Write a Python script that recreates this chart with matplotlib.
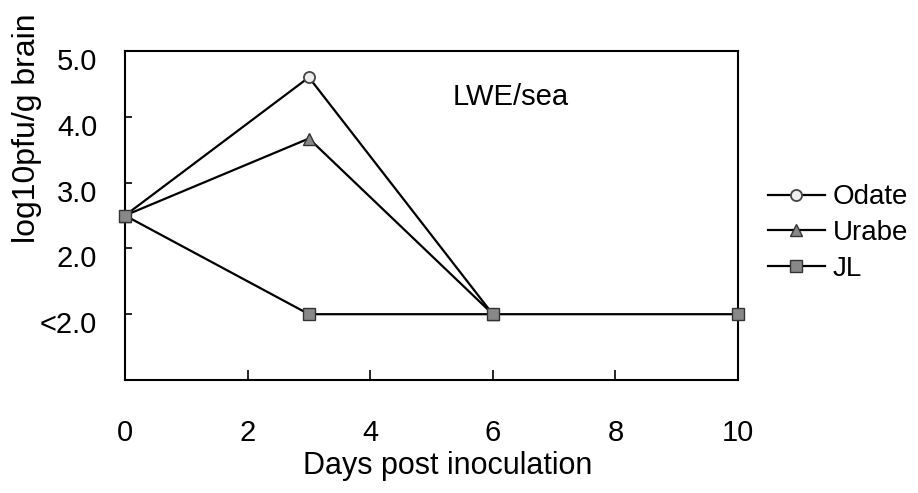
import matplotlib
matplotlib.use("Agg")
import matplotlib.pyplot as plt
from matplotlib.transforms import ScaledTranslation

plt.rcParams['font.family'] = ['Liberation Sans', 'DejaVu Sans']

# Data
days_odate = [0, 3, 6]
odate = [2.5, 4.6, 1.0]
days_urabe = [0, 3, 6]
urabe = [2.5, 3.67, 1.0]
days_jl = [0, 3, 6, 10]
jl = [2.5, 1.0, 1.0, 1.0]

xticks = [0, 2, 4, 6, 8, 10]
yticks = [1.0, 2.0, 3.0, 4.0, 5.0]
yticklabels = ['<2.0', '2.0', '3.0', '4.0', '5.0']

FS = 21

fig = plt.figure(figsize=(9.18, 4.93), dpi=100)
ax = fig.add_axes([125/918, 1-380/493, (738-125)/918, (380-51)/493])

lw = 1.6
ax.plot(days_odate, odate, color='black', lw=lw, marker='o', ms=8,
        mfc='#eeeeee', mec='#444444', mew=1.3, label='Odate', clip_on=False, zorder=3)
ax.plot(days_urabe, urabe, color='black', lw=lw, marker='^', ms=9,
        mfc='#888888', mec='#333333', mew=1.0, label='Urabe', clip_on=False, zorder=3)
ax.plot(days_jl, jl, color='black', lw=lw, marker='s', ms=8.5,
        mfc='#888888', mec='#333333', mew=1.0, label='JL', clip_on=False, zorder=4)

ax.set_xlim(0, 10)
ax.set_ylim(0, 5)
ax.set_xticks(xticks)
ax.set_yticks(yticks)
ax.set_yticklabels(yticklabels)

ax.tick_params(axis='y', direction='in', length=5, width=1.2, pad=20, labelsize=FS)
ax.tick_params(axis='x', direction='in', length=7, width=1.2, pad=28, labelsize=FS)
for s in ax.spines.values():
    s.set_linewidth(1.5)
    s.set_color('black')

offset = ScaledTranslation(0, -8/100, fig.dpi_scale_trans)
for lab in ax.get_yticklabels():
    lab.set_transform(lab.get_transform() + offset)

ax.set_xlabel('Days post inoculation', fontsize=22)
ax.xaxis.label.set_va('center')
ax.xaxis.set_label_coords((448-125)/613, (380-466)/329)

ax.set_ylabel('log10pfu/g brain', fontsize=23)
ax.yaxis.label.set_va('center')
ax.yaxis.set_label_coords((27-125)/613, (380-128)/329)

t = ax.text(511/918, 1-97/493, 'LWE/sea', fontsize=FS, ha='center', va='center',
            transform=fig.transFigure)

leg = ax.legend(loc='center left', bbox_to_anchor=(768/918, 1-233/493),
                bbox_transform=fig.transFigure, frameon=False, fontsize=20,
                handlelength=2.05, handletextpad=0.29, labelspacing=0.35,
                borderaxespad=0, borderpad=0)

fig.savefig('out.png', dpi=100)
